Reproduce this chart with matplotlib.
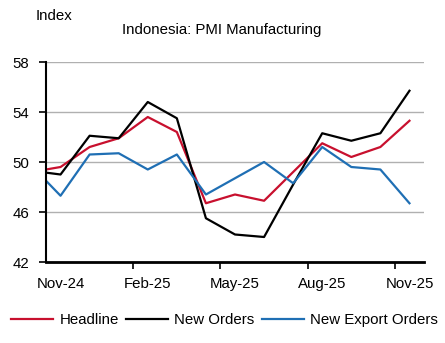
import numpy as np
import matplotlib
matplotlib.use("Agg")
import matplotlib.pyplot as plt

plt.rcParams['font.family'] = ['Liberation Sans', 'DejaVu Sans']

# Oct-24 .. Nov-25 (Oct-24 sits just left of the axis and is clipped)
months = ['Oct-24', 'Nov-24', 'Dec-24', 'Jan-25', 'Feb-25', 'Mar-25', 'Apr-25',
          'May-25', 'Jun-25', 'Jul-25', 'Aug-25', 'Sep-25', 'Oct-25', 'Nov-25']
headline = [49.2, 49.6, 51.2, 51.9, 53.6, 52.4, 46.7, 47.4, 46.9, 49.2, 51.5, 50.4, 51.2, 53.3]
new_orders = [49.3, 49.0, 52.1, 51.9, 54.8, 53.5, 45.5, 44.2, 44.0, 48.2, 52.3, 51.7, 52.3, 55.7]
export_orders = [49.7, 47.3, 50.6, 50.7, 49.4, 50.6, 47.4, 48.7, 50.0, 48.3, 51.2, 49.6, 49.4, 46.7]
tick_labels = ['Nov-24', 'Feb-25', 'May-25', 'Aug-25', 'Nov-25']

x = np.arange(len(months)) - 1
fs = 10.8

fig = plt.figure(figsize=(4.45, 3.43), dpi=100)
ax = fig.add_axes([46/445, (343-262)/343, (424-46)/445, 200/343])

ax.plot(x, headline, color='#C8102E', lw=1.6, label='Headline')
ax.plot(x, new_orders, color='black', lw=1.6, label='New Orders')
ax.plot(x, export_orders, color='#1F6FB4', lw=1.6, label='New Export Orders')

ax.set_xlim(-0.5, 12.5)
ax.set_ylim(42, 58)
ax.set_yticks(np.arange(42, 59, 4))
ax.yaxis.grid(True, color='#b0b0b0', lw=1)
ax.set_axisbelow(True)

ax.set_xticks([0, 3, 6, 9, 12])
ax.set_xticklabels(tick_labels)
ax.set_xticks([2.5, 5.5, 8.5, 11.5], minor=True)
ax.tick_params(axis='x', which='major', length=0, pad=11, labelsize=fs)
ax.tick_params(axis='x', which='minor', length=5, width=1.2, direction='out')
ax.tick_params(axis='y', length=5, width=1.2, labelsize=fs, pad=7)

for s in ['top', 'right']:
    ax.spines[s].set_visible(False)
ax.spines['left'].set_linewidth(1.5)
ax.spines['bottom'].set_linewidth(2)

fig.text(36/445, 1 - 16/343, 'Index', fontsize=fs, va='center', ha='left')
fig.text(222/445, 1 - 30/343, 'Indonesia: PMI Manufacturing', fontsize=fs,
         va='center', ha='center')

fig.legend(loc='center', bbox_to_anchor=(0.505, 1 - 320/343), ncol=3, frameon=False,
           fontsize=fs, handlelength=2.8, handletextpad=0.4, columnspacing=0.5)

fig.savefig('out.png', dpi=100)
